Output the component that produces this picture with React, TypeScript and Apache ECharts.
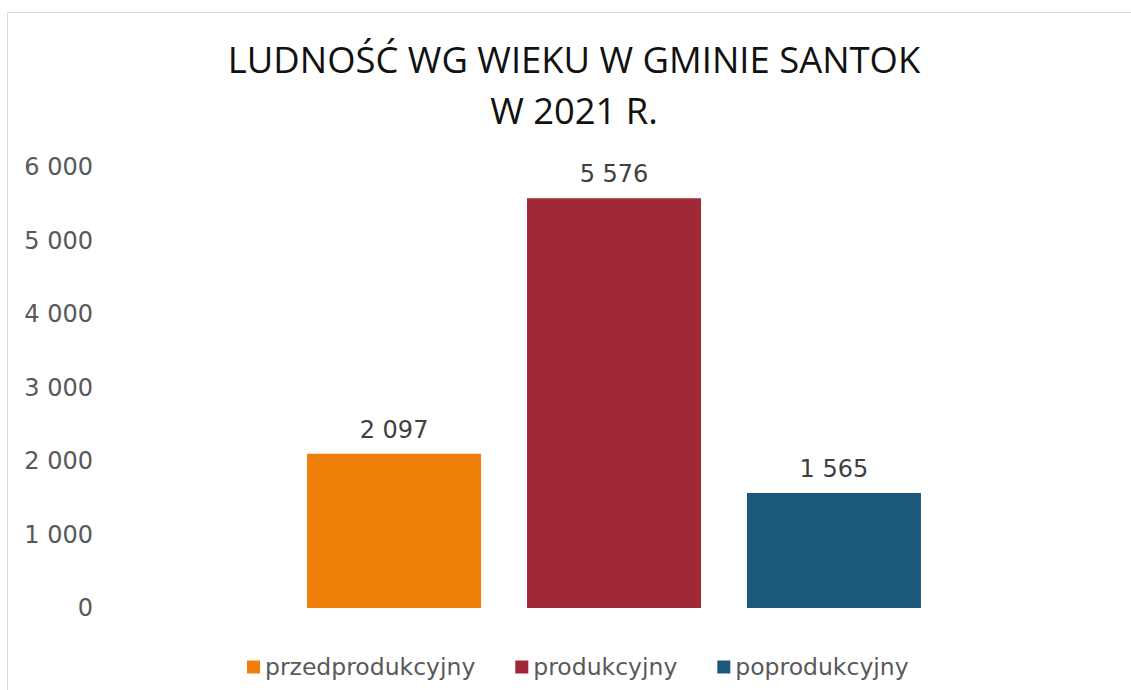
import React, { useEffect, useRef } from "react";
import * as echarts from "echarts";

const titleLines = ["LUDNOŚĆ WG WIEKU W GMINIE SANTOK", "W 2021 R."];
const categories = ["2021"];
const seriesNames = ["przedprodukcyjny", "produkcyjny", "poprodukcyjny"];
const seriesValues = [2097, 5576, 1565];
const seriesColors = ["#F07F09", "#9F2936", "#1B587C"];
const yTicks = [0, 1000, 2000, 3000, 4000, 5000, 6000];

const fmt = (v: number) => String(Math.round(v)).replace(/\B(?=(\d{3})+(?!\d))/g, " ");

export default function App() {
  const ref = useRef<HTMLDivElement>(null);
  useEffect(() => {
    if (!ref.current) return;
    const chart = echarts.init(ref.current, null, { renderer: "svg" });
    chart.setOption({
      animation: false,
      backgroundColor: "#fff",
      graphic: [
        {
          type: "rect",
          shape: { x: 7.5, y: 12.5, width: 1300, height: 900 },
          style: { fill: "none", stroke: "#D9D9D9", lineWidth: 1 },
          silent: true,
        },
        {
          type: "text",
          x: 574,
          y: 59,
          style: {
            text: titleLines[0],
            fill: "#111",
            font: '36.4px "Open Sans"',
            textAlign: "center",
            textVerticalAlign: "middle",
          },
        },
        {
          type: "text",
          x: 574,
          y: 110,
          style: {
            text: titleLines[1],
            fill: "#111",
            font: '36.4px "Open Sans"',
            textAlign: "center",
            textVerticalAlign: "middle",
          },
        },
      ],
      legend: {
        data: seriesNames,
        left: 242,
        top: 650,
        itemWidth: 13,
        itemHeight: 13,
        itemGap: 40,
        icon: "rect",
        textStyle: { color: "#595959", fontSize: 23.5, fontFamily: "DejaVu Sans" },
      },
      grid: { left: 107, right: 10, top: 167, bottom: 82, containLabel: false },
      xAxis: {
        type: "category",
        data: categories,
        axisLine: { show: false },
        axisTick: { show: false },
        axisLabel: { show: false },
        splitLine: { show: false },
      },
      yAxis: {
        type: "value",
        min: yTicks[0],
        max: yTicks[yTicks.length - 1],
        interval: 1000,
        axisLine: { show: false },
        axisTick: { show: false },
        splitLine: { show: false },
        axisLabel: {
          margin: 14,
          color: "#595959",
          fontSize: 24,
          fontFamily: "DejaVu Sans",
          formatter: (v: number) => fmt(v),
        },
      },
      series: seriesNames.map((name, i) => ({
        name,
        type: "bar",
        data: [seriesValues[i]],
        barWidth: 174,
        barGap: "26.4%",
        itemStyle: { color: seriesColors[i] },
        label: {
          show: true,
          position: "top",
          distance: 12,
          color: "#404040",
          fontSize: 24,
          fontFamily: "DejaVu Sans",
          formatter: (p: any) => fmt(p.value),
        },
      })),
    });
    return () => chart.dispose();
  }, []);
  return (
    <div
      ref={ref}
      style={{ position: "fixed", left: 0, top: 0, width: 1131, height: 690 }}
    />
  );
}
